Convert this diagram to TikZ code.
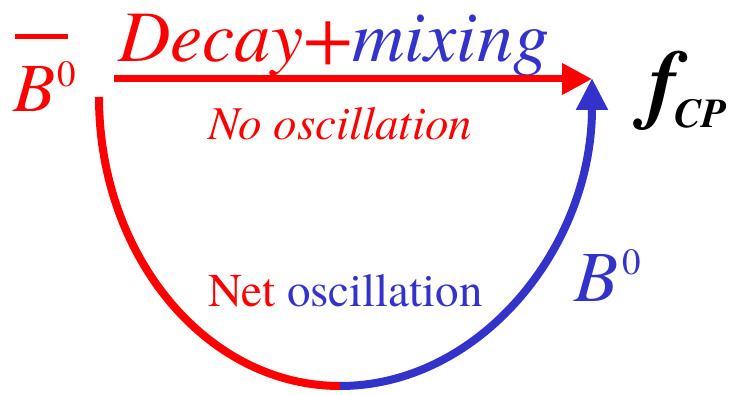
\documentclass[tikz,border=0pt]{standalone}
\usepackage{fontspec}
\IfFontExistsTF{texgyretermes-regular.otf}{%
	\setmainfont{texgyretermes}[Extension=.otf, UprightFont=*-regular, ItalicFont=*-italic, BoldFont=*-bold, BoldItalicFont=*-bolditalic]}{}
\usetikzlibrary{arrows.meta}
\definecolor{bblue}{RGB}{51,51,204}
\newcommand{\sizeto}[1]{\fontsize{#1}{#1}\selectfont}
\begin{document}
\begin{tikzpicture}[x=1pt, y=1pt, line cap=butt, >=Triangle,
	lbl/.style={inner sep=0pt, anchor=base west}]
	\useasboundingbox (0,0) rectangle (732,395);
	\coordinate (src) at (114,316); \coordinate (meet) at (592,316); % straight path
	\coordinate (lft) at (99,298); \coordinate (bot) at (340,9); % half ellipse
	\node[lbl, red] (Bbar) at (13,283) {\sizeto{69}\itshape B\kern2pt\raisebox{25pt}{\sizeto{37}\upshape 0}};
	\draw[red, line width=5pt] ([shift={(2,25)}]Bbar.north west)--([shift={(55,25)}]Bbar.north west);
	\node[lbl] (title) at (118,333) {\sizeto{72.5}\itshape\textcolor{red}{Decay+}\textcolor{bblue}{mixing}};
	\node[lbl, red] (noosc) at (208,255) {\sizeto{47}\itshape No oscillation};
	\node[lbl] (netosc) at (208,88) {\sizeto{47}\textcolor{red}{Net} \textcolor{bblue}{oscillation}};
	\node[lbl, bblue] (B) at (574,93) {\sizeto{72}\itshape B\kern4pt\raisebox{27pt}{\sizeto{37}\upshape 0}};
	\node[lbl] (fcp) at (648,282) {\sizeto{88}\bfseries\itshape f\kern-3pt\raisebox{-15pt}{\sizeto{41}CP}};
	\draw[red, line width=7pt, -{Triangle[length=30pt, width=30pt]}] (src)--(meet);
	\draw[red, line width=8pt] (lft) arc[start angle=180, end angle=270, x radius=241, y radius=289];
	\draw[bblue, line width=8pt, -{Triangle[length=32pt, width=30pt]}] (bot) arc[start angle=270, end angle=360, x radius=252, y radius=308];
\end{tikzpicture}
\end{document}
